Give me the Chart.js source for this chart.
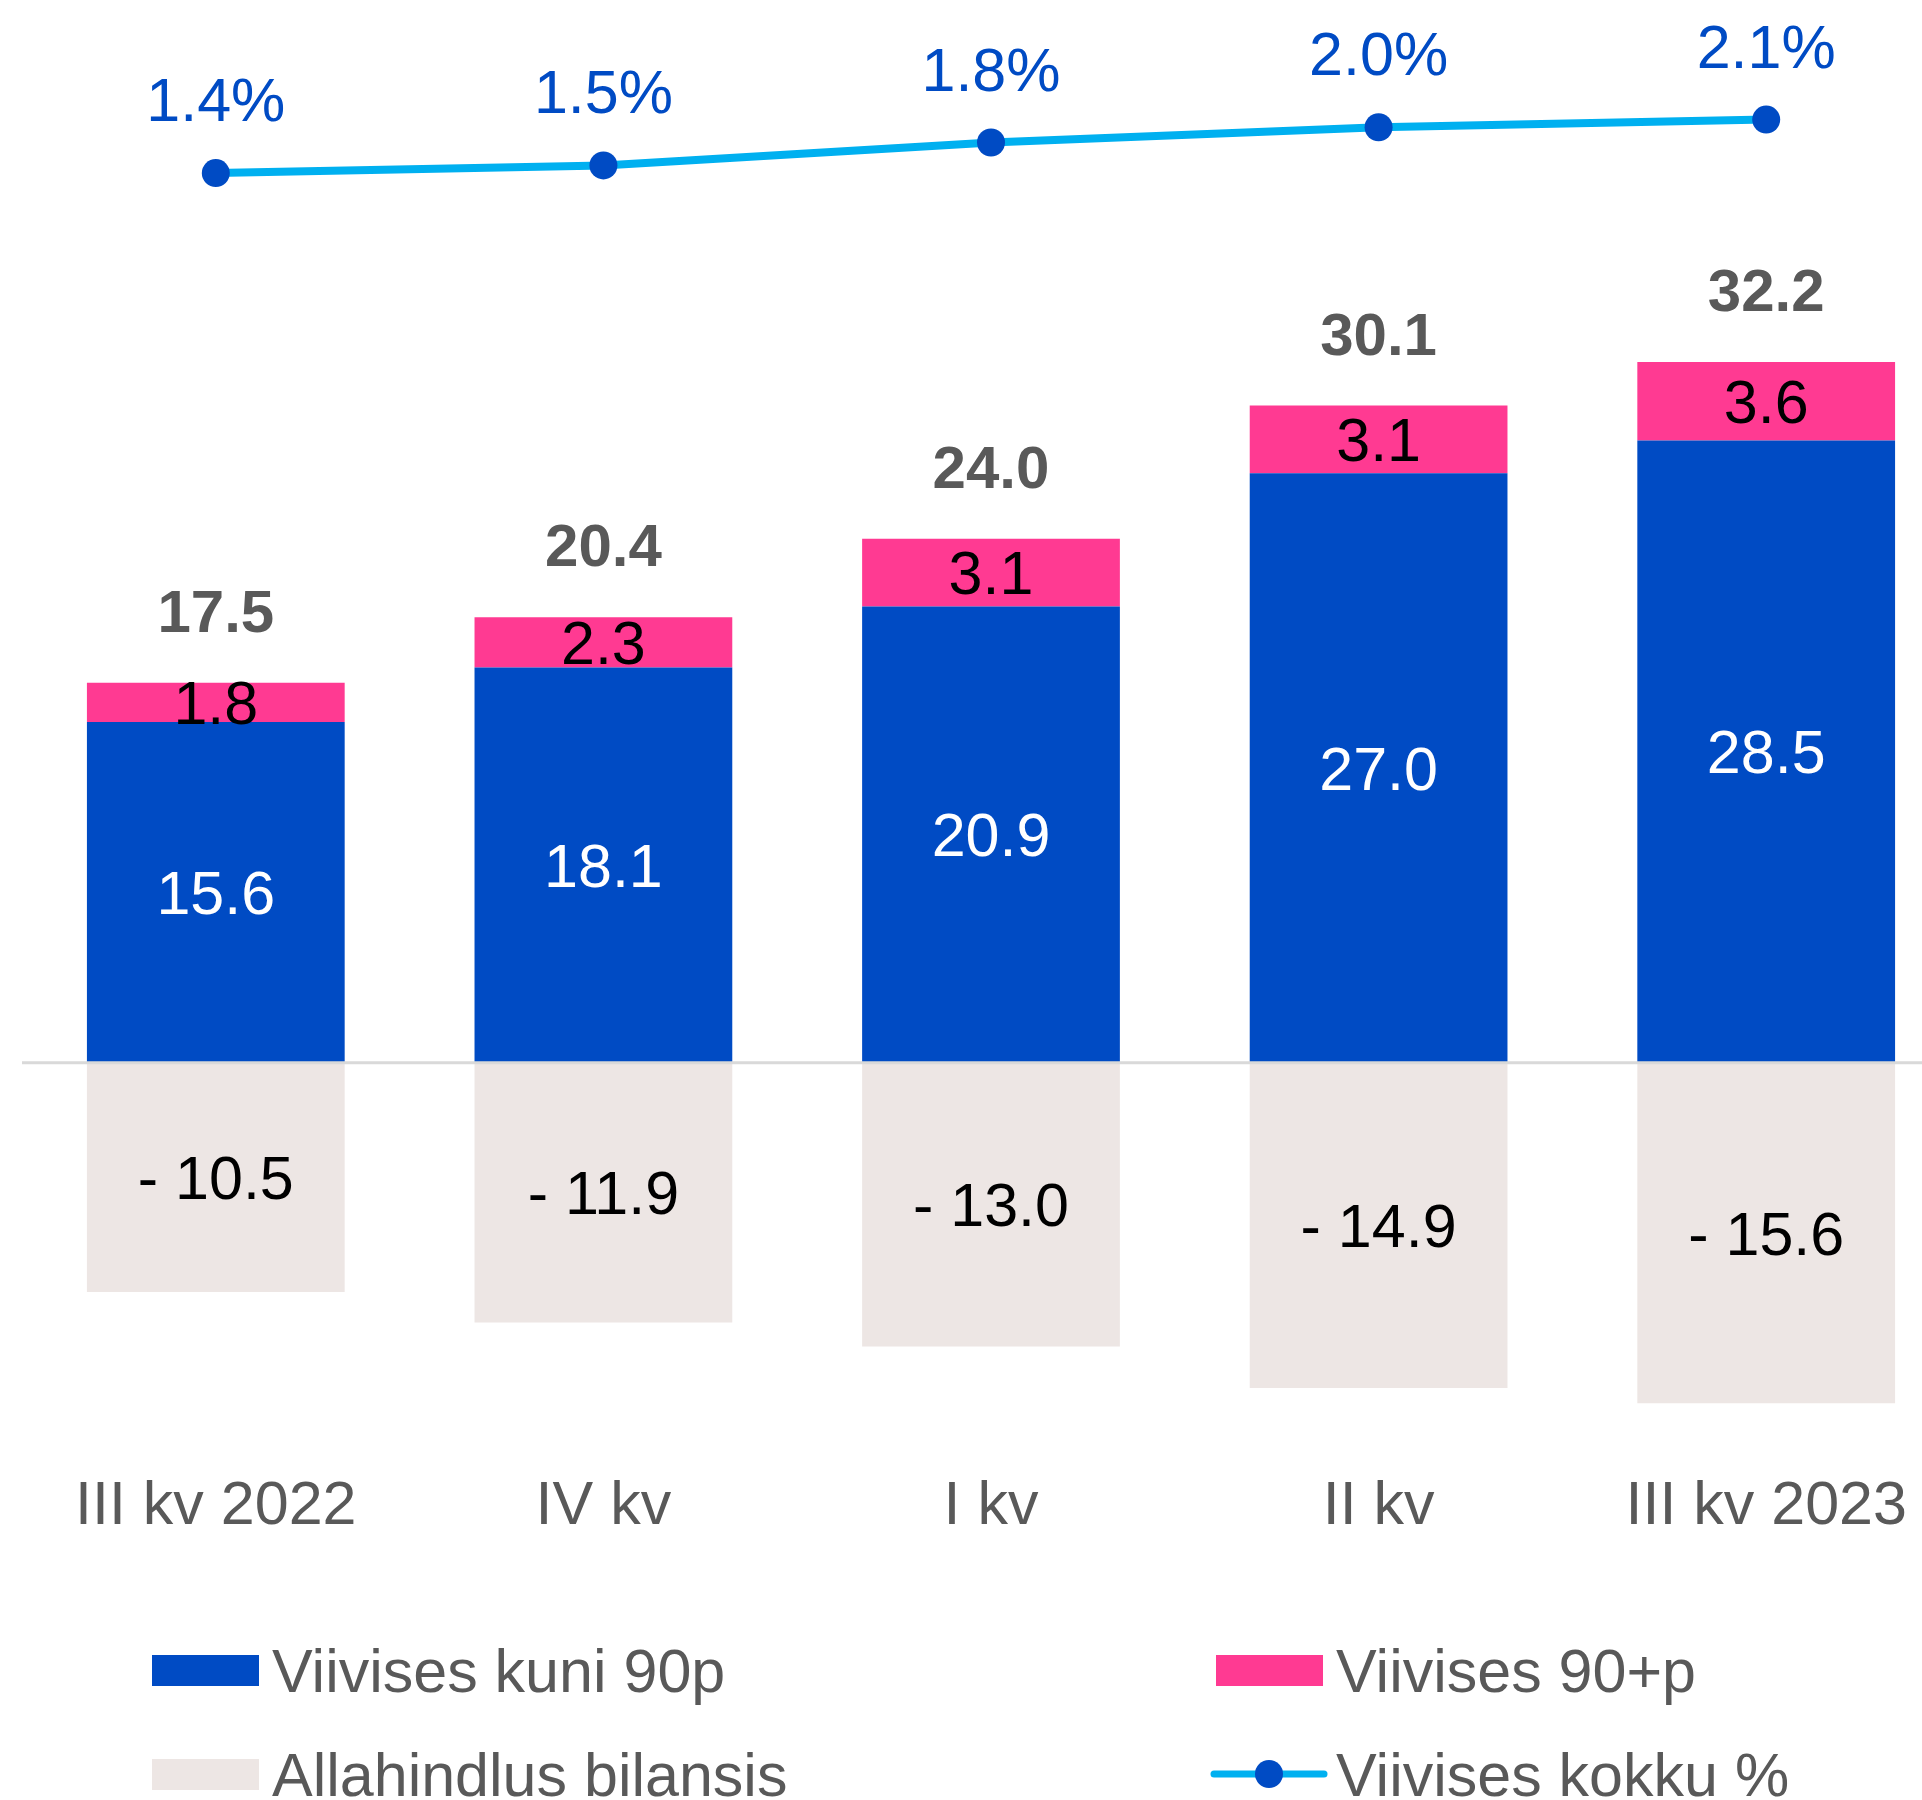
<!DOCTYPE html>
<html>
<head>
<meta charset="utf-8">
<script src="https://cdn.jsdelivr.net/npm/chart.js@4.4.1/dist/chart.umd.min.js"></script>
<style>
  html, body { margin: 0; padding: 0; background: #fff; overflow: hidden; }
  #outer { width: 1922px; height: 1800px; overflow: hidden; position: relative; }
  #wrap { width: 2000px; height: 1800px; position: absolute; left: 0; top: 0; }
</style>
</head>
<body>
<div id="outer"><div id="wrap"><canvas id="myChart"></canvas></div></div>
<script>
// andmed
let kvartalid = ['III kv 2022', 'IV kv', 'I kv', 'II kv', 'III kv 2023'];
let kuni90 = [15.6, 18.1, 20.9, 27.0, 28.5];
let yle90 = [1.8, 2.3, 3.1, 3.1, 3.6];
let allahindlus = [-10.5, -11.9, -13.0, -14.9, -15.6];
let kokku = [17.5, 20.4, 24.0, 30.1, 32.2];
let protsent = [1.4, 1.5, 1.8, 2.0, 2.1];

let seeriaNimed = ['Viivises kuni 90p', 'Viivises 90+p', 'Allahindlus bilansis', 'Viivises kokku %'];

const FONT = '"Liberation Sans", Arial, sans-serif';
const SININE = '#004BC4';
const ROOSA = '#FF3A92';
const BEEZ = '#EDE6E4';
const HELESININE = '#00B0F0';
const HALL = '#595959';
const SUURUS = 61;

/********** sildid **********/
const sildid = {
  id: 'sildid',
  afterDatasetsDraw(chart) {
    const ctx = chart.ctx;
    const ca = chart.chartArea;
    const y0 = chart.scales.y.getPixelForValue(0);

    // nulljoon
    ctx.save();
    ctx.strokeStyle = '#D9D9D9';
    ctx.lineWidth = 3;
    ctx.beginPath();
    ctx.moveTo(ca.left, y0);
    ctx.lineTo(ca.right, y0);
    ctx.stroke();

    ctx.textAlign = 'center';
    ctx.textBaseline = 'alphabetic';
    const cap = SUURUS * 0.358;

    const keskel = (dsIndex, varv, tekst) => {
      chart.getDatasetMeta(dsIndex).data.forEach((el, i) => {
        const p = el.getProps(['x', 'y', 'base'], true);
        ctx.fillStyle = varv;
        ctx.font = SUURUS + 'px ' + FONT;
        ctx.fillText(tekst(i), p.x, (p.y + p.base) / 2 + cap);
      });
    };
    keskel(0, '#FFFFFF', i => kuni90[i].toFixed(1));
    keskel(1, '#000000', i => yle90[i].toFixed(1));
    keskel(2, '#000000', i => '- ' + Math.abs(allahindlus[i]).toFixed(1));

    // kokku
    chart.getDatasetMeta(1).data.forEach((el, i) => {
      ctx.fillStyle = HALL;
      ctx.font = 'bold 60px ' + FONT;
      ctx.fillText(kokku[i].toFixed(1), el.x, el.y - 51);
    });

    // protsendid
    chart.getDatasetMeta(3).data.forEach((el, i) => {
      ctx.fillStyle = SININE;
      ctx.font = SUURUS + 'px ' + FONT;
      ctx.fillText(protsent[i].toFixed(1) + '%', el.x, el.y - 52);
    });
    ctx.restore();
  },
  afterDraw(chart) {
    // legend kahes veerus
    const ctx = chart.ctx;
    ctx.save();
    ctx.font = SUURUS + 'px ' + FONT;
    ctx.textAlign = 'left';
    ctx.textBaseline = 'alphabetic';
    const read = [1670, 1774];
    const veerud = [152, 1216];
    const varvid = [SININE, ROOSA, BEEZ];
    seeriaNimed.forEach((nimi, k) => {
      const x = veerud[k % 2];
      const y = read[Math.floor(k / 2)];
      if (k < 3) {
        ctx.fillStyle = varvid[k];
        ctx.fillRect(x, y - 15, 107, 31);
      } else {
        ctx.strokeStyle = HELESININE;
        ctx.lineWidth = 7;
        ctx.lineCap = 'round';
        ctx.beginPath();
        ctx.moveTo(x - 2, y);
        ctx.lineTo(x + 108, y);
        ctx.stroke();
        ctx.fillStyle = SININE;
        ctx.beginPath();
        ctx.arc(x + 53, y, 14, 0, Math.PI * 2);
        ctx.fill();
      }
      ctx.fillStyle = HALL;
      ctx.fillText(nimi, x + 120, y + 22);
    });
    ctx.restore();
  }
};

var ctx = document.getElementById('myChart');
var myChart = new Chart(ctx, {
  type: 'bar',
  data: {
    labels: kvartalid,
    datasets: [
      { label: seeriaNimed[0], data: kuni90, backgroundColor: SININE, order: 2 },
      { label: seeriaNimed[1], data: yle90, backgroundColor: ROOSA, order: 2 },
      { label: seeriaNimed[2], data: allahindlus, backgroundColor: BEEZ, order: 2 },
      {
        type: 'line',
        label: seeriaNimed[3],
        data: protsent,
        yAxisID: 'y2',
        borderColor: HELESININE,
        borderWidth: 8,
        pointRadius: 14,
        pointBackgroundColor: SININE,
        pointBorderWidth: 0,
        order: 1
      }
    ]
  },
  options: {
    responsive: true,
    maintainAspectRatio: false,
    animation: false,
    devicePixelRatio: 1,
    layout: { padding: { top: 41, left: 22, right: 40, bottom: 219 } },
    datasets: {
      bar: { barPercentage: 0.665, categoryPercentage: 1 }
    },
    scales: {
      x: {
        stacked: true,
        grid: { display: false, drawTicks: false },
        border: { display: false },
        ticks: {
          color: HALL,
          font: { family: FONT, size: SUURUS },
          padding: 37,
          maxRotation: 0,
          autoSkip: false
        }
      },
      y: {
        stacked: true,
        display: false,
        min: -17,
        max: 46.8
      },
      y2: {
        display: false,
        min: -15.12,
        max: 3.13
      }
    },
    plugins: {
      legend: { display: false },
      tooltip: { enabled: false }
    }
  },
  plugins: [sildid]
});
</script>
</body>
</html>
